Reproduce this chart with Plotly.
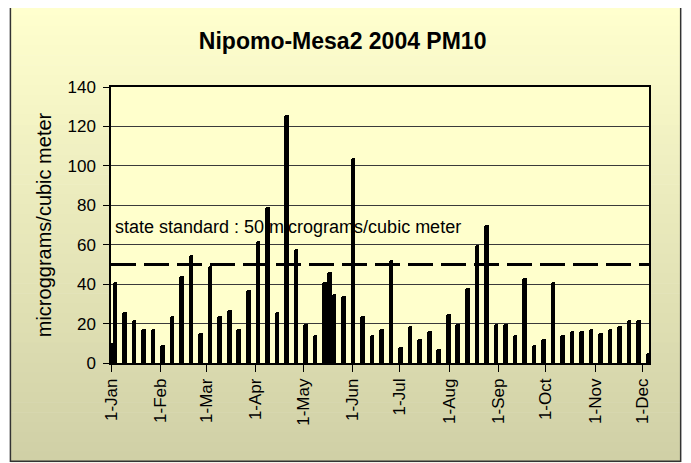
import plotly.graph_objects as go

# PM10 samples (1-in-6 day schedule plus a couple of extra days), ug/m3
dates = ['2004-01-01', '2004-01-03', '2004-01-09', '2004-01-15', '2004-01-21', '2004-01-27',
         '2004-02-02', '2004-02-08', '2004-02-14', '2004-02-20', '2004-02-26',
         '2004-03-03', '2004-03-09', '2004-03-15', '2004-03-21', '2004-03-27',
         '2004-04-02', '2004-04-08', '2004-04-14', '2004-04-20', '2004-04-26',
         '2004-05-02', '2004-05-08', '2004-05-14', '2004-05-17', '2004-05-20', '2004-05-26',
         '2004-06-01', '2004-06-07', '2004-06-13', '2004-06-19', '2004-06-25',
         '2004-07-01', '2004-07-07', '2004-07-13', '2004-07-19', '2004-07-25', '2004-07-31',
         '2004-08-06', '2004-08-12', '2004-08-18', '2004-08-24', '2004-08-30',
         '2004-09-05', '2004-09-11', '2004-09-17', '2004-09-23', '2004-09-29',
         '2004-10-05', '2004-10-11', '2004-10-17', '2004-10-23', '2004-10-29',
         '2004-11-04', '2004-11-10', '2004-11-16', '2004-11-22', '2004-11-28',
         '2004-12-04']
pm10 = [10, 41, 26, 22, 17, 17,
        9, 24, 44, 55, 15,
        49, 24, 27, 17, 37,
        62, 79, 26, 126, 58,
        20, 14, 41, 46, 35, 34,
        104, 24, 14, 17, 52,
        8, 19, 12, 16, 7, 25,
        20, 38, 60, 70, 20,
        20, 14, 43, 9, 12,
        41, 14, 16, 16, 17,
        15, 17, 19, 22, 22,
        5]

month_ticks = ['2004-01-01', '2004-02-01', '2004-03-01', '2004-04-01', '2004-05-01', '2004-06-01',
               '2004-07-01', '2004-08-01', '2004-09-01', '2004-10-01', '2004-11-01', '2004-12-01']
month_labels = ['1-Jan', '1-Feb', '1-Mar', '1-Apr', '1-May', '1-Jun',
                '1-Jul', '1-Aug', '1-Sep', '1-Oct', '1-Nov', '1-Dec']
standard = 50

FONT = 'Liberation Sans, Arial, sans-serif'
DAY = 86400000

fig = go.Figure()
fig.add_trace(go.Bar(x=[d + ' 12:00' for d in dates], y=pm10,
                     width=[2.9 * DAY] * len(dates),
                     marker=dict(color='black', line=dict(width=0), cornerradius=2),
                     hoverinfo='x+y'))

# page pixels -> paper coords (plot area spans x 110.7..649.3, y 87.3..363.3 on the page)
def px(p):
    return (p - 110.7) / 538.6
def py(p):
    return (363.3 - p) / 276.0

# chart area gradient (light yellow -> khaki), drawn as thin strips
shapes = []
top_px, bot_px = 6, 462
n = 46
c0 = (255, 255, 206)
c1 = (208, 208, 166)
for i in range(n):
    t = i / (n - 1)
    col = tuple(int(round(c0[k] + (c1[k] - c0[k]) * t)) for k in range(3))
    y_a = top_px + (bot_px - top_px) * i / n
    y_b = top_px + (bot_px - top_px) * (i + 1) / n + 0.6
    shapes.append(dict(type='rect', xref='paper', yref='paper', layer='below',
                       x0=px(10), x1=px(681), y0=py(y_b), y1=py(y_a),
                       fillcolor='rgb(%d,%d,%d)' % col, line=dict(width=0)))
# plot area fill
shapes.append(dict(type='rect', xref='paper', yref='paper', layer='below',
                   x0=0, x1=1, y0=0, y1=1, fillcolor='#FFFFCC', line=dict(width=0)))
# outer border
shapes.append(dict(type='rect', xref='paper', yref='paper', layer='above',
                   x0=px(10), x1=px(681), y0=py(461.5), y1=py(6),
                   fillcolor='rgba(0,0,0,0)', line=dict(color='#333333', width=1.5)))
# state standard line
shapes.append(dict(type='line', xref='paper', yref='y', x0=0, x1=1, y0=standard, y1=standard,
                   line=dict(color='black', width=3, dash='25px,8px')))

# the page has an 8px body margin, so the figure is sized to fit what remains
fig.update_layout(
    width=683, height=455,
    margin=dict(l=103, r=42, t=79, b=100),
    paper_bgcolor='white',
    plot_bgcolor='rgba(0,0,0,0)',
    showlegend=False,
    font=dict(family=FONT, color='black', size=16),
    title=dict(text='<b>Nipomo-Mesa2 2004 PM10</b>', x=0.49, xanchor='center',
               y=1 - 33 / 455, yanchor='middle', font=dict(size=23, family=FONT)),
    shapes=shapes,
    annotations=[dict(text='state standard : 50 micrograms/cubic meter', xref='paper', yref='y',
                      x=0.004, y=69, xanchor='left', yanchor='middle', showarrow=False,
                      font=dict(size=18, family=FONT))],
    xaxis=dict(type='date', range=['2004-01-01', '2004-12-05'],
               tickvals=month_ticks, ticktext=month_labels, tickangle=-90,
               ticks='outside', ticklen=7, tickcolor='black', tickwidth=1,
               showline=True, linecolor='black', linewidth=1.5, mirror=True,
               showgrid=False, zeroline=False, tickfont=dict(size=17)),
    yaxis=dict(range=[0, 140], dtick=20, ticks='outside', ticklen=6, tickcolor='black',
               showline=True, linecolor='black', linewidth=1.5, mirror=True,
               showgrid=True, gridcolor='#3a3a3a', gridwidth=1, zeroline=False,
               ticklabelstandoff=4,
               title=dict(text='microggrams/cubic meter', font=dict(size=20), standoff=10),
               tickfont=dict(size=17)),
    bargap=0,
)

fig.write_html('out.html')
